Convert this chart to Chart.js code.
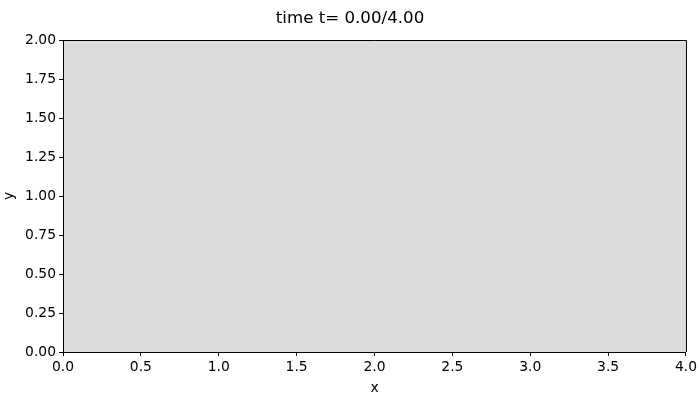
<!DOCTYPE html>
<html>
<head>
<meta charset="utf-8">
<script src="https://cdn.jsdelivr.net/npm/chart.js@4/dist/chart.umd.min.js"></script>
<style>
  html, body { margin: 0; padding: 0; background: #ffffff; }
</style>
</head>
<body>
<canvas id="plot" width="700" height="400"></canvas>
<script>
// données (le graphique de référence est vide à t = 0)
var titleText = 'time t= 0.00/4.00';
var xTicks = [0, 0.5, 1, 1.5, 2, 2.5, 3, 3.5, 4];
var yTicks = [0, 0.25, 0.5, 0.75, 1, 1.25, 1.5, 1.75, 2];
var xValues = [];
var yValues = [];

var points = xValues.map(function(x, i) { return { x: x, y: yValues[i] }; });

Chart.defaults.font.family = 'DejaVu Sans';
Chart.defaults.color = '#000000';

// fond gris de la zone de tracé + cadre haut/droite
var axesBg = {
    id: 'axesBg',
    beforeDraw: function(chart) {
        var a = chart.chartArea, c = chart.ctx;
        c.save();
        c.fillStyle = '#dcdcdc';
        c.fillRect(a.left, a.top, a.right - a.left, a.bottom - a.top);
        c.restore();
    },
    afterDraw: function(chart) {
        var a = chart.chartArea, c = chart.ctx;
        c.save();
        c.strokeStyle = '#000000';
        c.lineWidth = 1;
        c.beginPath();
        c.moveTo(a.left, a.top + 0.5);
        c.lineTo(a.right + 0.5, a.top + 0.5);
        c.lineTo(a.right + 0.5, a.bottom);
        c.stroke();
        c.restore();
    }
};

var ctx = document.getElementById('plot').getContext('2d');
var chart = new Chart(ctx, {
    type: 'scatter',
    data: {
        datasets: [{ label: 'u', data: points, pointRadius: 2, borderColor: '#1f77b4', backgroundColor: '#1f77b4' }]
    },
    options: {
        responsive: false,
        animation: false,
        layout: { padding: 0 },
        plugins: {
            legend: { display: false },
            tooltip: { enabled: false },
            title: {
                display: true,
                text: titleText,
                font: { size: 16.67, weight: 'normal' },
                padding: { top: 9, bottom: 11 }
            }
        },
        scales: {
            x: {
                type: 'linear',
                min: xTicks[0],
                max: xTicks[xTicks.length - 1],
                afterBuildTicks: function(s) { s.ticks = xTicks.map(function(v) { return { value: v }; }); },
                afterFit: function(s) { s.height = 48; },
                ticks: {
                    font: { size: 13.89 },
                    padding: 3,
                    maxRotation: 0,
                    callback: function(v) { return Number(v).toFixed(1); }
                },
                grid: { drawOnChartArea: false, drawTicks: true, tickLength: 4, color: '#000000' },
                border: { display: true, color: '#000000', width: 1 },
                title: { display: true, text: 'x', font: { size: 13.89 }, padding: { top: 0, bottom: 3 } }
            },
            y: {
                type: 'linear',
                min: yTicks[0],
                max: yTicks[yTicks.length - 1],
                afterBuildTicks: function(s) { s.ticks = yTicks.map(function(v) { return { value: v }; }); },
                afterFit: function(s) { s.width = 63; },
                ticks: {
                    font: { size: 13.89 },
                    padding: 3,
                    callback: function(v) { return Number(v).toFixed(2); }
                },
                grid: { drawOnChartArea: false, drawTicks: true, tickLength: 4, color: '#000000' },
                border: { display: true, color: '#000000', width: 1 },
                title: { display: true, text: 'y', font: { size: 13.89 }, padding: { top: 1, bottom: 0 } }
            },
            // marge droite (axe invisible)
            yRight: {
                type: 'linear',
                position: 'right',
                display: true,
                min: 0,
                max: 1,
                afterFit: function(s) { s.width = 14; },
                ticks: { display: false },
                grid: { display: false },
                border: { display: false }
            }
        }
    },
    plugins: [axesBg]
});
</script>
</body>
</html>
